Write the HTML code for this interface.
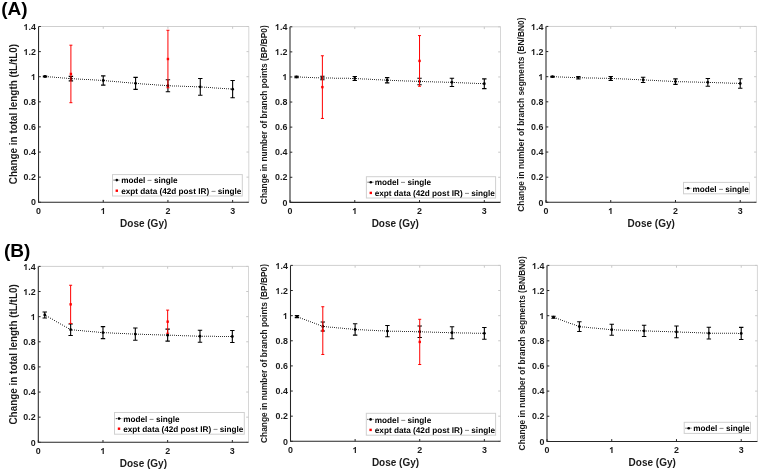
<!DOCTYPE html>
<html><head><meta charset="utf-8"><style>
html,body{margin:0;padding:0;background:#fff;}
body{width:760px;height:471px;overflow:hidden;}
svg{display:block;will-change:transform;}
text{font-family:"Liberation Sans", sans-serif;font-weight:bold;fill:#000;}
.tk{font-size:8.9px;fill:#1a1a1a;}
.lg{font-size:8.2px;text-rendering:geometricPrecision;}
.xl{font-size:10px;fill:#1a1a1a;}
.yl{fill:#1a1a1a;}
.pl{font-size:19px;}
</style></head><body>
<svg width="760" height="471" viewBox="0 0 760 471">
<rect width="760" height="471" fill="#fff"/>
<text x="1.2" y="15.1" class="pl">(A)</text>
<text x="4.0" y="256.8" class="pl">(B)</text>
<line x1="38.55" y1="26.5" x2="248.8" y2="26.5" stroke="#cfcfcf" stroke-width="1"/>
<line x1="248.8" y1="26.5" x2="248.8" y2="202.25" stroke="#d6d6d6" stroke-width="1"/>
<line x1="38.55" y1="202.25" x2="40.85" y2="202.25" stroke="#262626" stroke-width="1"/>
<line x1="248.8" y1="202.25" x2="246.5" y2="202.25" stroke="#c8c8c8" stroke-width="1"/>
<text x="35.95" y="205.45" text-anchor="end" class="tk">0</text>
<line x1="38.55" y1="177.14" x2="40.85" y2="177.14" stroke="#262626" stroke-width="1"/>
<line x1="248.8" y1="177.14" x2="246.5" y2="177.14" stroke="#c8c8c8" stroke-width="1"/>
<text x="35.95" y="180.34" text-anchor="end" class="tk">0.2</text>
<line x1="38.55" y1="152.04" x2="40.85" y2="152.04" stroke="#262626" stroke-width="1"/>
<line x1="248.8" y1="152.04" x2="246.5" y2="152.04" stroke="#c8c8c8" stroke-width="1"/>
<text x="35.95" y="155.24" text-anchor="end" class="tk">0.4</text>
<line x1="38.55" y1="126.93" x2="40.85" y2="126.93" stroke="#262626" stroke-width="1"/>
<line x1="248.8" y1="126.93" x2="246.5" y2="126.93" stroke="#c8c8c8" stroke-width="1"/>
<text x="35.95" y="130.13" text-anchor="end" class="tk">0.6</text>
<line x1="38.55" y1="101.82" x2="40.85" y2="101.82" stroke="#262626" stroke-width="1"/>
<line x1="248.8" y1="101.82" x2="246.5" y2="101.82" stroke="#c8c8c8" stroke-width="1"/>
<text x="35.95" y="105.02" text-anchor="end" class="tk">0.8</text>
<line x1="38.55" y1="76.71" x2="40.85" y2="76.71" stroke="#262626" stroke-width="1"/>
<line x1="248.8" y1="76.71" x2="246.5" y2="76.71" stroke="#c8c8c8" stroke-width="1"/>
<path d="M759 0L484 0L484 1032Q330 890 147 834L147 1082Q250 1117 370 1210Q490 1303 535 1409L759 1409Z" transform="matrix(0.004346 0 0 -0.004346 31.00 80.00)" fill="#1a1a1a"/>
<line x1="38.55" y1="51.61" x2="40.85" y2="51.61" stroke="#262626" stroke-width="1"/>
<line x1="248.8" y1="51.61" x2="246.5" y2="51.61" stroke="#c8c8c8" stroke-width="1"/>
<path d="M759 0L484 0L484 1032Q330 890 147 834L147 1082Q250 1117 370 1210Q490 1303 535 1409L759 1409Z" transform="matrix(0.004346 0 0 -0.004346 23.58 55.00)" fill="#1a1a1a"/>
<text x="35.95" y="54.81" text-anchor="end" class="tk">.2</text>
<line x1="38.55" y1="26.5" x2="40.85" y2="26.5" stroke="#262626" stroke-width="1"/>
<line x1="248.8" y1="26.5" x2="246.5" y2="26.5" stroke="#c8c8c8" stroke-width="1"/>
<path d="M759 0L484 0L484 1032Q330 890 147 834L147 1082Q250 1117 370 1210Q490 1303 535 1409L759 1409Z" transform="matrix(0.004346 0 0 -0.004346 23.58 30.00)" fill="#1a1a1a"/>
<text x="35.95" y="29.7" text-anchor="end" class="tk">.4</text>
<line x1="38.55" y1="202.25" x2="38.55" y2="199.95" stroke="#262626" stroke-width="1"/>
<line x1="38.55" y1="26.5" x2="38.55" y2="28.8" stroke="#c8c8c8" stroke-width="1"/>
<text x="38.55" y="214.15" text-anchor="middle" class="tk">0</text>
<line x1="103.24" y1="202.25" x2="103.24" y2="199.95" stroke="#262626" stroke-width="1"/>
<line x1="103.24" y1="26.5" x2="103.24" y2="28.8" stroke="#c8c8c8" stroke-width="1"/>
<path d="M759 0L484 0L484 1032Q330 890 147 834L147 1082Q250 1117 370 1210Q490 1303 535 1409L759 1409Z" transform="matrix(0.004346 0 0 -0.004346 100.77 214.00)" fill="#1a1a1a"/>
<line x1="167.93" y1="202.25" x2="167.93" y2="199.95" stroke="#262626" stroke-width="1"/>
<line x1="167.93" y1="26.5" x2="167.93" y2="28.8" stroke="#c8c8c8" stroke-width="1"/>
<text x="167.93" y="214.15" text-anchor="middle" class="tk">2</text>
<line x1="232.63" y1="202.25" x2="232.63" y2="199.95" stroke="#262626" stroke-width="1"/>
<line x1="232.63" y1="26.5" x2="232.63" y2="28.8" stroke="#c8c8c8" stroke-width="1"/>
<text x="232.63" y="214.15" text-anchor="middle" class="tk">3</text>
<path d="M38.55 26.5V202.25H248.8" fill="none" stroke="#262626" stroke-width="1.05"/>
<path d="M46 76.13h1v1h-1zM48 76.29h1v1h-1zM50 76.45h1v1h-1zM52 76.62h1v1h-1zM54 76.78h1v1h-1zM56 76.94h1v1h-1zM58 77.10h1v1h-1zM60 77.26h1v1h-1zM62 77.42h1v1h-1zM64 77.58h1v1h-1zM66 77.74h1v1h-1zM68 77.90h1v1h-1zM70 78.07h1v1h-1zM72 78.19h1v1h-1zM74 78.31h1v1h-1zM76 78.42h1v1h-1zM78 78.54h1v1h-1zM80 78.66h1v1h-1zM82 78.77h1v1h-1zM84 78.89h1v1h-1zM86 79.01h1v1h-1zM88 79.12h1v1h-1zM90 79.24h1v1h-1zM92 79.35h1v1h-1zM94 79.47h1v1h-1zM96 79.59h1v1h-1zM98 79.70h1v1h-1zM100 79.82h1v1h-1zM102 79.94h1v1h-1zM104 80.09h1v1h-1zM106 80.27h1v1h-1zM108 80.45h1v1h-1zM110 80.63h1v1h-1zM112 80.81h1v1h-1zM114 80.99h1v1h-1zM116 81.16h1v1h-1zM118 81.34h1v1h-1zM120 81.52h1v1h-1zM122 81.70h1v1h-1zM124 81.88h1v1h-1zM126 82.06h1v1h-1zM128 82.23h1v1h-1zM130 82.41h1v1h-1zM132 82.59h1v1h-1zM134 82.77h1v1h-1zM136 82.93h1v1h-1zM138 83.08h1v1h-1zM140 83.23h1v1h-1zM142 83.38h1v1h-1zM144 83.52h1v1h-1zM146 83.67h1v1h-1zM148 83.82h1v1h-1zM150 83.97h1v1h-1zM152 84.11h1v1h-1zM154 84.26h1v1h-1zM156 84.41h1v1h-1zM158 84.56h1v1h-1zM160 84.70h1v1h-1zM162 84.85h1v1h-1zM164 85.00h1v1h-1zM166 85.15h1v1h-1zM168 85.27h1v1h-1zM170 85.34h1v1h-1zM172 85.41h1v1h-1zM174 85.48h1v1h-1zM176 85.55h1v1h-1zM178 85.62h1v1h-1zM180 85.69h1v1h-1zM182 85.76h1v1h-1zM184 85.83h1v1h-1zM186 85.90h1v1h-1zM188 85.97h1v1h-1zM190 86.04h1v1h-1zM192 86.11h1v1h-1zM194 86.18h1v1h-1zM196 86.25h1v1h-1zM198 86.32h1v1h-1zM200 86.40h1v1h-1zM202 86.54h1v1h-1zM204 86.68h1v1h-1zM206 86.82h1v1h-1zM208 86.96h1v1h-1zM210 87.10h1v1h-1zM212 87.24h1v1h-1zM214 87.38h1v1h-1zM216 87.52h1v1h-1zM218 87.66h1v1h-1zM220 87.80h1v1h-1zM222 87.93h1v1h-1zM224 88.07h1v1h-1zM226 88.21h1v1h-1zM228 88.35h1v1h-1zM230 88.49h1v1h-1zM232 88.63h1v1h-1z" fill="#333"/>
<path d="M45.02 76.01V77.02M42.82 76.01H47.22M42.82 77.02H47.22" stroke="#000" stroke-width="1.1" fill="none"/>
<path d="M70.9 76.34V80.86M68.7 76.34H73.1M68.7 80.86H73.1" stroke="#000" stroke-width="1.1" fill="none"/>
<path d="M103.24 75.84V85.13M101.04 75.84H105.44M101.04 85.13H105.44" stroke="#000" stroke-width="1.1" fill="none"/>
<path d="M135.59 77.34V89.39M133.39 77.34H137.79M133.39 89.39H137.79" stroke="#000" stroke-width="1.1" fill="none"/>
<path d="M167.93 79.73V91.78M165.73 79.73H170.13M165.73 91.78H170.13" stroke="#000" stroke-width="1.1" fill="none"/>
<path d="M200.28 78.47V95.29M198.08 78.47H202.48M198.08 95.29H202.48" stroke="#000" stroke-width="1.1" fill="none"/>
<path d="M232.63 80.48V97.8M230.43 80.48H234.83M230.43 97.8H234.83" stroke="#000" stroke-width="1.1" fill="none"/>
<circle cx="45.02" cy="76.51" r="1.4" fill="#000"/>
<circle cx="70.9" cy="78.6" r="1.4" fill="#000"/>
<circle cx="103.24" cy="80.48" r="1.4" fill="#000"/>
<circle cx="135.59" cy="83.37" r="1.4" fill="#000"/>
<circle cx="167.93" cy="85.75" r="1.4" fill="#000"/>
<circle cx="200.28" cy="86.88" r="1.4" fill="#000"/>
<circle cx="232.63" cy="89.14" r="1.4" fill="#000"/>
<path d="M70.9 45.2V102.7M69.4 45.2H72.4M69.4 102.7H72.4" stroke="#ff0000" stroke-width="1" fill="none"/>
<path d="M167.93 30.27V87.76M166.43 30.27H169.43M166.43 87.76H169.43" stroke="#ff0000" stroke-width="1" fill="none"/>
<rect x="69.7" y="72.75" width="2.4" height="2.4" fill="#ff0000"/>
<rect x="166.73" y="57.81" width="2.4" height="2.4" fill="#ff0000"/>
<rect x="112.5" y="174.6" width="129.8" height="21.4" fill="#fff" stroke="#d0d0d0" stroke-width="1"/>
<line x1="113.6" y1="180.1" x2="120" y2="180.1" stroke="#000" stroke-width="0.9" stroke-dasharray="1 1"/>
<circle cx="116.8" cy="180.1" r="1.3" fill="#000"/>
<text x="121.2" y="183.2" class="lg" textLength="56.4" lengthAdjust="spacingAndGlyphs">model <tspan font-weight="normal" font-size="7.2px" baseline-shift="0.9">–</tspan> single</text>
<rect x="115.6" y="189.5" width="2.4" height="2.4" fill="#ff0000"/>
<text x="121.2" y="193.9" class="lg" textLength="120.2" lengthAdjust="spacingAndGlyphs">expt data (42d post IR) <tspan font-weight="normal" font-size="7.2px" baseline-shift="0.9">–</tspan> single</text>
<text x="143.68" y="226.65" text-anchor="middle" class="xl">Dose (Gy)</text>
<text transform="translate(17.3 114.1) rotate(-90)" text-anchor="middle" font-size="10.1" textLength="140.3" lengthAdjust="spacingAndGlyphs" class="yl">Change in total length (tL/tL0)</text>
<line x1="290" y1="26.8" x2="500.5" y2="26.8" stroke="#cfcfcf" stroke-width="1"/>
<line x1="500.5" y1="26.8" x2="500.5" y2="202.35" stroke="#d6d6d6" stroke-width="1"/>
<line x1="290" y1="202.35" x2="292.3" y2="202.35" stroke="#262626" stroke-width="1"/>
<line x1="500.5" y1="202.35" x2="498.2" y2="202.35" stroke="#c8c8c8" stroke-width="1"/>
<text x="287.4" y="205.55" text-anchor="end" class="tk">0</text>
<line x1="290" y1="177.27" x2="292.3" y2="177.27" stroke="#262626" stroke-width="1"/>
<line x1="500.5" y1="177.27" x2="498.2" y2="177.27" stroke="#c8c8c8" stroke-width="1"/>
<text x="287.4" y="180.47" text-anchor="end" class="tk">0.2</text>
<line x1="290" y1="152.19" x2="292.3" y2="152.19" stroke="#262626" stroke-width="1"/>
<line x1="500.5" y1="152.19" x2="498.2" y2="152.19" stroke="#c8c8c8" stroke-width="1"/>
<text x="287.4" y="155.39" text-anchor="end" class="tk">0.4</text>
<line x1="290" y1="127.11" x2="292.3" y2="127.11" stroke="#262626" stroke-width="1"/>
<line x1="500.5" y1="127.11" x2="498.2" y2="127.11" stroke="#c8c8c8" stroke-width="1"/>
<text x="287.4" y="130.31" text-anchor="end" class="tk">0.6</text>
<line x1="290" y1="102.04" x2="292.3" y2="102.04" stroke="#262626" stroke-width="1"/>
<line x1="500.5" y1="102.04" x2="498.2" y2="102.04" stroke="#c8c8c8" stroke-width="1"/>
<text x="287.4" y="105.24" text-anchor="end" class="tk">0.8</text>
<line x1="290" y1="76.96" x2="292.3" y2="76.96" stroke="#262626" stroke-width="1"/>
<line x1="500.5" y1="76.96" x2="498.2" y2="76.96" stroke="#c8c8c8" stroke-width="1"/>
<path d="M759 0L484 0L484 1032Q330 890 147 834L147 1082Q250 1117 370 1210Q490 1303 535 1409L759 1409Z" transform="matrix(0.004346 0 0 -0.004346 282.45 80.00)" fill="#1a1a1a"/>
<line x1="290" y1="51.88" x2="292.3" y2="51.88" stroke="#262626" stroke-width="1"/>
<line x1="500.5" y1="51.88" x2="498.2" y2="51.88" stroke="#c8c8c8" stroke-width="1"/>
<path d="M759 0L484 0L484 1032Q330 890 147 834L147 1082Q250 1117 370 1210Q490 1303 535 1409L759 1409Z" transform="matrix(0.004346 0 0 -0.004346 275.03 55.00)" fill="#1a1a1a"/>
<text x="287.4" y="55.08" text-anchor="end" class="tk">.2</text>
<line x1="290" y1="26.8" x2="292.3" y2="26.8" stroke="#262626" stroke-width="1"/>
<line x1="500.5" y1="26.8" x2="498.2" y2="26.8" stroke="#c8c8c8" stroke-width="1"/>
<path d="M759 0L484 0L484 1032Q330 890 147 834L147 1082Q250 1117 370 1210Q490 1303 535 1409L759 1409Z" transform="matrix(0.004346 0 0 -0.004346 275.03 30.00)" fill="#1a1a1a"/>
<text x="287.4" y="30" text-anchor="end" class="tk">.4</text>
<line x1="290" y1="202.35" x2="290" y2="200.05" stroke="#262626" stroke-width="1"/>
<line x1="290" y1="26.8" x2="290" y2="29.1" stroke="#c8c8c8" stroke-width="1"/>
<text x="290" y="214.25" text-anchor="middle" class="tk">0</text>
<line x1="354.77" y1="202.35" x2="354.77" y2="200.05" stroke="#262626" stroke-width="1"/>
<line x1="354.77" y1="26.8" x2="354.77" y2="29.1" stroke="#c8c8c8" stroke-width="1"/>
<path d="M759 0L484 0L484 1032Q330 890 147 834L147 1082Q250 1117 370 1210Q490 1303 535 1409L759 1409Z" transform="matrix(0.004346 0 0 -0.004346 352.30 214.00)" fill="#1a1a1a"/>
<line x1="419.54" y1="202.35" x2="419.54" y2="200.05" stroke="#262626" stroke-width="1"/>
<line x1="419.54" y1="26.8" x2="419.54" y2="29.1" stroke="#c8c8c8" stroke-width="1"/>
<text x="419.54" y="214.25" text-anchor="middle" class="tk">2</text>
<line x1="484.31" y1="202.35" x2="484.31" y2="200.05" stroke="#262626" stroke-width="1"/>
<line x1="484.31" y1="26.8" x2="484.31" y2="29.1" stroke="#c8c8c8" stroke-width="1"/>
<text x="484.31" y="214.25" text-anchor="middle" class="tk">3</text>
<path d="M290 26.8V202.35H500.5" fill="none" stroke="#262626" stroke-width="1.05"/>
<path d="M298 76.54h1v1h-1zM300 76.61h1v1h-1zM302 76.69h1v1h-1zM304 76.77h1v1h-1zM306 76.85h1v1h-1zM308 76.92h1v1h-1zM310 77.00h1v1h-1zM312 77.08h1v1h-1zM314 77.15h1v1h-1zM316 77.23h1v1h-1zM318 77.31h1v1h-1zM320 77.39h1v1h-1zM322 77.46h1v1h-1zM324 77.49h1v1h-1zM326 77.52h1v1h-1zM328 77.56h1v1h-1zM330 77.59h1v1h-1zM332 77.62h1v1h-1zM334 77.65h1v1h-1zM336 77.68h1v1h-1zM338 77.71h1v1h-1zM340 77.74h1v1h-1zM342 77.77h1v1h-1zM344 77.80h1v1h-1zM346 77.83h1v1h-1zM348 77.86h1v1h-1zM350 77.90h1v1h-1zM352 77.93h1v1h-1zM354 77.96h1v1h-1zM356 78.06h1v1h-1zM358 78.16h1v1h-1zM360 78.27h1v1h-1zM362 78.38h1v1h-1zM364 78.49h1v1h-1zM366 78.60h1v1h-1zM368 78.71h1v1h-1zM370 78.81h1v1h-1zM372 78.92h1v1h-1zM374 79.03h1v1h-1zM376 79.14h1v1h-1zM378 79.25h1v1h-1zM380 79.36h1v1h-1zM382 79.47h1v1h-1zM384 79.57h1v1h-1zM386 79.68h1v1h-1zM388 79.77h1v1h-1zM390 79.85h1v1h-1zM392 79.92h1v1h-1zM394 80.00h1v1h-1zM396 80.08h1v1h-1zM398 80.16h1v1h-1zM400 80.23h1v1h-1zM402 80.31h1v1h-1zM404 80.39h1v1h-1zM406 80.47h1v1h-1zM408 80.54h1v1h-1zM410 80.62h1v1h-1zM412 80.70h1v1h-1zM414 80.78h1v1h-1zM416 80.85h1v1h-1zM418 80.93h1v1h-1zM420 81.00h1v1h-1zM422 81.05h1v1h-1zM424 81.11h1v1h-1zM426 81.16h1v1h-1zM428 81.21h1v1h-1zM430 81.27h1v1h-1zM432 81.32h1v1h-1zM434 81.38h1v1h-1zM436 81.43h1v1h-1zM438 81.49h1v1h-1zM440 81.54h1v1h-1zM442 81.59h1v1h-1zM444 81.65h1v1h-1zM446 81.70h1v1h-1zM448 81.76h1v1h-1zM450 81.81h1v1h-1zM452 81.87h1v1h-1zM454 81.96h1v1h-1zM456 82.04h1v1h-1zM458 82.13h1v1h-1zM460 82.21h1v1h-1zM462 82.30h1v1h-1zM464 82.38h1v1h-1zM466 82.47h1v1h-1zM468 82.56h1v1h-1zM470 82.64h1v1h-1zM472 82.73h1v1h-1zM474 82.81h1v1h-1zM476 82.90h1v1h-1zM478 82.98h1v1h-1zM480 83.07h1v1h-1zM482 83.15h1v1h-1zM484 83.15h1v1h-1z" fill="#333"/>
<path d="M296.48 76.2V77.71M294.28 76.2H298.68M294.28 77.71H298.68" stroke="#000" stroke-width="1.1" fill="none"/>
<path d="M322.38 76.2V79.72M320.18 76.2H324.58M320.18 79.72H324.58" stroke="#000" stroke-width="1.1" fill="none"/>
<path d="M354.77 76.46V80.47M352.57 76.46H356.97M352.57 80.47H356.97" stroke="#000" stroke-width="1.1" fill="none"/>
<path d="M387.15 77.58V82.85M384.95 77.58H389.35M384.95 82.85H389.35" stroke="#000" stroke-width="1.1" fill="none"/>
<path d="M419.54 78.21V84.73M417.34 78.21H421.74M417.34 84.73H421.74" stroke="#000" stroke-width="1.1" fill="none"/>
<path d="M451.92 78.21V86.49M449.72 78.21H454.12M449.72 86.49H454.12" stroke="#000" stroke-width="1.1" fill="none"/>
<path d="M484.31 78.84V88.62M482.11 78.84H486.51M482.11 88.62H486.51" stroke="#000" stroke-width="1.1" fill="none"/>
<circle cx="296.48" cy="76.96" r="1.4" fill="#000"/>
<circle cx="322.38" cy="77.96" r="1.4" fill="#000"/>
<circle cx="354.77" cy="78.46" r="1.4" fill="#000"/>
<circle cx="387.15" cy="80.22" r="1.4" fill="#000"/>
<circle cx="419.54" cy="81.47" r="1.4" fill="#000"/>
<circle cx="451.92" cy="82.35" r="1.4" fill="#000"/>
<circle cx="484.31" cy="83.73" r="1.4" fill="#000"/>
<path d="M322.38 55.77V118.46M320.88 55.77H323.88M320.88 118.46H323.88" stroke="#ff0000" stroke-width="1" fill="none"/>
<path d="M419.54 35.58V86.24M418.04 35.58H421.04M418.04 86.24H421.04" stroke="#ff0000" stroke-width="1" fill="none"/>
<rect x="321.18" y="85.91" width="2.4" height="2.4" fill="#ff0000"/>
<rect x="418.34" y="59.71" width="2.4" height="2.4" fill="#ff0000"/>
<rect x="366.4" y="176.7" width="129.2" height="21.3" fill="#fff" stroke="#d0d0d0" stroke-width="1"/>
<line x1="367.6" y1="182.2" x2="374" y2="182.2" stroke="#000" stroke-width="0.9" stroke-dasharray="1 1"/>
<circle cx="370.8" cy="182.2" r="1.3" fill="#000"/>
<text x="374.7" y="185.2" class="lg" textLength="56.4" lengthAdjust="spacingAndGlyphs">model <tspan font-weight="normal" font-size="7.2px" baseline-shift="0.9">–</tspan> single</text>
<rect x="369.6" y="191.7" width="2.4" height="2.4" fill="#ff0000"/>
<text x="374.7" y="196.3" class="lg" textLength="120.2" lengthAdjust="spacingAndGlyphs">expt data (42d post IR) <tspan font-weight="normal" font-size="7.2px" baseline-shift="0.9">–</tspan> single</text>
<text x="395.25" y="226.75" text-anchor="middle" class="xl">Dose (Gy)</text>
<text transform="translate(266.9 114.7) rotate(-90)" text-anchor="middle" font-size="8.4" textLength="178.9" lengthAdjust="spacingAndGlyphs" class="yl">Change in number of branch points (BP/BP0)</text>
<line x1="546" y1="26.45" x2="756.4" y2="26.45" stroke="#cfcfcf" stroke-width="1"/>
<line x1="756.4" y1="26.45" x2="756.4" y2="202.3" stroke="#d6d6d6" stroke-width="1"/>
<line x1="546" y1="202.3" x2="548.3" y2="202.3" stroke="#262626" stroke-width="1"/>
<line x1="756.4" y1="202.3" x2="754.1" y2="202.3" stroke="#c8c8c8" stroke-width="1"/>
<text x="543.4" y="205.5" text-anchor="end" class="tk">0</text>
<line x1="546" y1="177.18" x2="548.3" y2="177.18" stroke="#262626" stroke-width="1"/>
<line x1="756.4" y1="177.18" x2="754.1" y2="177.18" stroke="#c8c8c8" stroke-width="1"/>
<text x="543.4" y="180.38" text-anchor="end" class="tk">0.2</text>
<line x1="546" y1="152.06" x2="548.3" y2="152.06" stroke="#262626" stroke-width="1"/>
<line x1="756.4" y1="152.06" x2="754.1" y2="152.06" stroke="#c8c8c8" stroke-width="1"/>
<text x="543.4" y="155.26" text-anchor="end" class="tk">0.4</text>
<line x1="546" y1="126.94" x2="548.3" y2="126.94" stroke="#262626" stroke-width="1"/>
<line x1="756.4" y1="126.94" x2="754.1" y2="126.94" stroke="#c8c8c8" stroke-width="1"/>
<text x="543.4" y="130.14" text-anchor="end" class="tk">0.6</text>
<line x1="546" y1="101.81" x2="548.3" y2="101.81" stroke="#262626" stroke-width="1"/>
<line x1="756.4" y1="101.81" x2="754.1" y2="101.81" stroke="#c8c8c8" stroke-width="1"/>
<text x="543.4" y="105.01" text-anchor="end" class="tk">0.8</text>
<line x1="546" y1="76.69" x2="548.3" y2="76.69" stroke="#262626" stroke-width="1"/>
<line x1="756.4" y1="76.69" x2="754.1" y2="76.69" stroke="#c8c8c8" stroke-width="1"/>
<path d="M759 0L484 0L484 1032Q330 890 147 834L147 1082Q250 1117 370 1210Q490 1303 535 1409L759 1409Z" transform="matrix(0.004346 0 0 -0.004346 538.45 80.00)" fill="#1a1a1a"/>
<line x1="546" y1="51.57" x2="548.3" y2="51.57" stroke="#262626" stroke-width="1"/>
<line x1="756.4" y1="51.57" x2="754.1" y2="51.57" stroke="#c8c8c8" stroke-width="1"/>
<path d="M759 0L484 0L484 1032Q330 890 147 834L147 1082Q250 1117 370 1210Q490 1303 535 1409L759 1409Z" transform="matrix(0.004346 0 0 -0.004346 531.03 55.00)" fill="#1a1a1a"/>
<text x="543.4" y="54.77" text-anchor="end" class="tk">.2</text>
<line x1="546" y1="26.45" x2="548.3" y2="26.45" stroke="#262626" stroke-width="1"/>
<line x1="756.4" y1="26.45" x2="754.1" y2="26.45" stroke="#c8c8c8" stroke-width="1"/>
<path d="M759 0L484 0L484 1032Q330 890 147 834L147 1082Q250 1117 370 1210Q490 1303 535 1409L759 1409Z" transform="matrix(0.004346 0 0 -0.004346 531.03 30.00)" fill="#1a1a1a"/>
<text x="543.4" y="29.65" text-anchor="end" class="tk">.4</text>
<line x1="546" y1="202.3" x2="546" y2="200" stroke="#262626" stroke-width="1"/>
<line x1="546" y1="26.45" x2="546" y2="28.75" stroke="#c8c8c8" stroke-width="1"/>
<text x="546" y="214.2" text-anchor="middle" class="tk">0</text>
<line x1="610.74" y1="202.3" x2="610.74" y2="200" stroke="#262626" stroke-width="1"/>
<line x1="610.74" y1="26.45" x2="610.74" y2="28.75" stroke="#c8c8c8" stroke-width="1"/>
<path d="M759 0L484 0L484 1032Q330 890 147 834L147 1082Q250 1117 370 1210Q490 1303 535 1409L759 1409Z" transform="matrix(0.004346 0 0 -0.004346 608.26 214.00)" fill="#1a1a1a"/>
<line x1="675.48" y1="202.3" x2="675.48" y2="200" stroke="#262626" stroke-width="1"/>
<line x1="675.48" y1="26.45" x2="675.48" y2="28.75" stroke="#c8c8c8" stroke-width="1"/>
<text x="675.48" y="214.2" text-anchor="middle" class="tk">2</text>
<line x1="740.22" y1="202.3" x2="740.22" y2="200" stroke="#262626" stroke-width="1"/>
<line x1="740.22" y1="26.45" x2="740.22" y2="28.75" stroke="#c8c8c8" stroke-width="1"/>
<text x="740.22" y="214.2" text-anchor="middle" class="tk">3</text>
<path d="M546 26.45V202.3H756.4" fill="none" stroke="#262626" stroke-width="1.05"/>
<path d="M554 76.27h1v1h-1zM556 76.35h1v1h-1zM558 76.43h1v1h-1zM560 76.50h1v1h-1zM562 76.58h1v1h-1zM564 76.66h1v1h-1zM566 76.74h1v1h-1zM568 76.81h1v1h-1zM570 76.89h1v1h-1zM572 76.97h1v1h-1zM574 77.05h1v1h-1zM576 77.13h1v1h-1zM578 77.20h1v1h-1zM580 77.25h1v1h-1zM582 77.29h1v1h-1zM584 77.34h1v1h-1zM586 77.39h1v1h-1zM588 77.43h1v1h-1zM590 77.48h1v1h-1zM592 77.53h1v1h-1zM594 77.57h1v1h-1zM596 77.62h1v1h-1zM598 77.67h1v1h-1zM600 77.71h1v1h-1zM602 77.76h1v1h-1zM604 77.81h1v1h-1zM606 77.85h1v1h-1zM608 77.90h1v1h-1zM610 77.95h1v1h-1zM612 78.03h1v1h-1zM614 78.11h1v1h-1zM616 78.20h1v1h-1zM618 78.28h1v1h-1zM620 78.37h1v1h-1zM622 78.45h1v1h-1zM624 78.54h1v1h-1zM626 78.62h1v1h-1zM628 78.71h1v1h-1zM630 78.79h1v1h-1zM632 78.88h1v1h-1zM634 78.97h1v1h-1zM636 79.05h1v1h-1zM638 79.14h1v1h-1zM640 79.22h1v1h-1zM642 79.31h1v1h-1zM644 79.41h1v1h-1zM646 79.52h1v1h-1zM648 79.63h1v1h-1zM650 79.73h1v1h-1zM652 79.84h1v1h-1zM654 79.95h1v1h-1zM656 80.06h1v1h-1zM658 80.17h1v1h-1zM660 80.28h1v1h-1zM662 80.39h1v1h-1zM664 80.50h1v1h-1zM666 80.60h1v1h-1zM668 80.71h1v1h-1zM670 80.82h1v1h-1zM672 80.93h1v1h-1zM674 81.04h1v1h-1zM676 81.12h1v1h-1zM678 81.16h1v1h-1zM680 81.21h1v1h-1zM682 81.26h1v1h-1zM684 81.30h1v1h-1zM686 81.35h1v1h-1zM688 81.39h1v1h-1zM690 81.44h1v1h-1zM692 81.49h1v1h-1zM694 81.53h1v1h-1zM696 81.58h1v1h-1zM698 81.63h1v1h-1zM700 81.67h1v1h-1zM702 81.72h1v1h-1zM704 81.77h1v1h-1zM706 81.81h1v1h-1zM708 81.87h1v1h-1zM710 81.94h1v1h-1zM712 82.01h1v1h-1zM714 82.08h1v1h-1zM716 82.15h1v1h-1zM718 82.22h1v1h-1zM720 82.29h1v1h-1zM722 82.36h1v1h-1zM724 82.43h1v1h-1zM726 82.50h1v1h-1zM728 82.57h1v1h-1zM730 82.64h1v1h-1zM732 82.71h1v1h-1zM734 82.78h1v1h-1zM736 82.85h1v1h-1zM738 82.92h1v1h-1zM740 82.92h1v1h-1z" fill="#333"/>
<path d="M552.47 76.19V77.2M550.27 76.19H554.67M550.27 77.2H554.67" stroke="#000" stroke-width="1.1" fill="none"/>
<path d="M578.37 76.44V78.95M576.17 76.44H580.57M576.17 78.95H580.57" stroke="#000" stroke-width="1.1" fill="none"/>
<path d="M610.74 76.44V80.46M608.54 76.44H612.94M608.54 80.46H612.94" stroke="#000" stroke-width="1.1" fill="none"/>
<path d="M643.11 77.2V82.47M640.91 77.2H645.31M640.91 82.47H645.31" stroke="#000" stroke-width="1.1" fill="none"/>
<path d="M675.48 78.83V84.35M673.28 78.83H677.68M673.28 84.35H677.68" stroke="#000" stroke-width="1.1" fill="none"/>
<path d="M707.85 78.45V86.24M705.65 78.45H710.05M705.65 86.24H710.05" stroke="#000" stroke-width="1.1" fill="none"/>
<path d="M740.22 78.7V88.25M738.02 78.7H742.42M738.02 88.25H742.42" stroke="#000" stroke-width="1.1" fill="none"/>
<circle cx="552.47" cy="76.69" r="1.4" fill="#000"/>
<circle cx="578.37" cy="77.7" r="1.4" fill="#000"/>
<circle cx="610.74" cy="78.45" r="1.4" fill="#000"/>
<circle cx="643.11" cy="79.83" r="1.4" fill="#000"/>
<circle cx="675.48" cy="81.59" r="1.4" fill="#000"/>
<circle cx="707.85" cy="82.35" r="1.4" fill="#000"/>
<circle cx="740.22" cy="83.48" r="1.4" fill="#000"/>
<rect x="683.5" y="182.4" width="65.9" height="11.4" fill="#fff" stroke="#d0d0d0" stroke-width="1"/>
<line x1="684.8" y1="188.3" x2="691.2" y2="188.3" stroke="#000" stroke-width="0.9" stroke-dasharray="1 1"/>
<circle cx="688" cy="188.3" r="1.3" fill="#000"/>
<text x="692.5" y="191.6" class="lg" textLength="56.4" lengthAdjust="spacingAndGlyphs">model <tspan font-weight="normal" font-size="7.2px" baseline-shift="0.9">–</tspan> single</text>
<text x="651.2" y="226.7" text-anchor="middle" class="xl">Dose (Gy)</text>
<text transform="translate(524.2 114.65) rotate(-90)" text-anchor="middle" font-size="8.4" textLength="194.2" lengthAdjust="spacingAndGlyphs" class="yl">Change in number of branch segments (BN/BN0)</text>
<line x1="38.3" y1="266.4" x2="248.5" y2="266.4" stroke="#cfcfcf" stroke-width="1"/>
<line x1="248.5" y1="266.4" x2="248.5" y2="442.3" stroke="#d6d6d6" stroke-width="1"/>
<line x1="38.3" y1="442.3" x2="40.6" y2="442.3" stroke="#262626" stroke-width="1"/>
<line x1="248.5" y1="442.3" x2="246.2" y2="442.3" stroke="#c8c8c8" stroke-width="1"/>
<text x="35.7" y="445.5" text-anchor="end" class="tk">0</text>
<line x1="38.3" y1="417.17" x2="40.6" y2="417.17" stroke="#262626" stroke-width="1"/>
<line x1="248.5" y1="417.17" x2="246.2" y2="417.17" stroke="#c8c8c8" stroke-width="1"/>
<text x="35.7" y="420.37" text-anchor="end" class="tk">0.2</text>
<line x1="38.3" y1="392.04" x2="40.6" y2="392.04" stroke="#262626" stroke-width="1"/>
<line x1="248.5" y1="392.04" x2="246.2" y2="392.04" stroke="#c8c8c8" stroke-width="1"/>
<text x="35.7" y="395.24" text-anchor="end" class="tk">0.4</text>
<line x1="38.3" y1="366.91" x2="40.6" y2="366.91" stroke="#262626" stroke-width="1"/>
<line x1="248.5" y1="366.91" x2="246.2" y2="366.91" stroke="#c8c8c8" stroke-width="1"/>
<text x="35.7" y="370.11" text-anchor="end" class="tk">0.6</text>
<line x1="38.3" y1="341.79" x2="40.6" y2="341.79" stroke="#262626" stroke-width="1"/>
<line x1="248.5" y1="341.79" x2="246.2" y2="341.79" stroke="#c8c8c8" stroke-width="1"/>
<text x="35.7" y="344.99" text-anchor="end" class="tk">0.8</text>
<line x1="38.3" y1="316.66" x2="40.6" y2="316.66" stroke="#262626" stroke-width="1"/>
<line x1="248.5" y1="316.66" x2="246.2" y2="316.66" stroke="#c8c8c8" stroke-width="1"/>
<path d="M759 0L484 0L484 1032Q330 890 147 834L147 1082Q250 1117 370 1210Q490 1303 535 1409L759 1409Z" transform="matrix(0.004346 0 0 -0.004346 30.75 320.00)" fill="#1a1a1a"/>
<line x1="38.3" y1="291.53" x2="40.6" y2="291.53" stroke="#262626" stroke-width="1"/>
<line x1="248.5" y1="291.53" x2="246.2" y2="291.53" stroke="#c8c8c8" stroke-width="1"/>
<path d="M759 0L484 0L484 1032Q330 890 147 834L147 1082Q250 1117 370 1210Q490 1303 535 1409L759 1409Z" transform="matrix(0.004346 0 0 -0.004346 23.33 295.00)" fill="#1a1a1a"/>
<text x="35.7" y="294.73" text-anchor="end" class="tk">.2</text>
<line x1="38.3" y1="266.4" x2="40.6" y2="266.4" stroke="#262626" stroke-width="1"/>
<line x1="248.5" y1="266.4" x2="246.2" y2="266.4" stroke="#c8c8c8" stroke-width="1"/>
<path d="M759 0L484 0L484 1032Q330 890 147 834L147 1082Q250 1117 370 1210Q490 1303 535 1409L759 1409Z" transform="matrix(0.004346 0 0 -0.004346 23.33 270.00)" fill="#1a1a1a"/>
<text x="35.7" y="269.6" text-anchor="end" class="tk">.4</text>
<line x1="38.3" y1="442.3" x2="38.3" y2="440" stroke="#262626" stroke-width="1"/>
<line x1="38.3" y1="266.4" x2="38.3" y2="268.7" stroke="#c8c8c8" stroke-width="1"/>
<text x="38.3" y="454.2" text-anchor="middle" class="tk">0</text>
<line x1="102.98" y1="442.3" x2="102.98" y2="440" stroke="#262626" stroke-width="1"/>
<line x1="102.98" y1="266.4" x2="102.98" y2="268.7" stroke="#c8c8c8" stroke-width="1"/>
<path d="M759 0L484 0L484 1032Q330 890 147 834L147 1082Q250 1117 370 1210Q490 1303 535 1409L759 1409Z" transform="matrix(0.004346 0 0 -0.004346 100.50 454.00)" fill="#1a1a1a"/>
<line x1="167.65" y1="442.3" x2="167.65" y2="440" stroke="#262626" stroke-width="1"/>
<line x1="167.65" y1="266.4" x2="167.65" y2="268.7" stroke="#c8c8c8" stroke-width="1"/>
<text x="167.65" y="454.2" text-anchor="middle" class="tk">2</text>
<line x1="232.33" y1="442.3" x2="232.33" y2="440" stroke="#262626" stroke-width="1"/>
<line x1="232.33" y1="266.4" x2="232.33" y2="268.7" stroke="#c8c8c8" stroke-width="1"/>
<text x="232.33" y="454.2" text-anchor="middle" class="tk">3</text>
<path d="M38.3 266.4V442.3H248.5" fill="none" stroke="#262626" stroke-width="1.05"/>
<path d="M46 315.45h1v1h-1zM48 316.59h1v1h-1zM50 317.73h1v1h-1zM52 318.87h1v1h-1zM54 320.01h1v1h-1zM56 321.16h1v1h-1zM58 322.30h1v1h-1zM60 323.44h1v1h-1zM62 324.58h1v1h-1zM64 325.72h1v1h-1zM66 326.86h1v1h-1zM68 328.00h1v1h-1zM70 329.14h1v1h-1zM72 329.39h1v1h-1zM74 329.57h1v1h-1zM76 329.75h1v1h-1zM78 329.93h1v1h-1zM80 330.11h1v1h-1zM82 330.28h1v1h-1zM84 330.46h1v1h-1zM86 330.64h1v1h-1zM88 330.82h1v1h-1zM90 331.00h1v1h-1zM92 331.18h1v1h-1zM94 331.36h1v1h-1zM96 331.54h1v1h-1zM98 331.71h1v1h-1zM100 331.89h1v1h-1zM102 332.07h1v1h-1zM104 332.18h1v1h-1zM106 332.28h1v1h-1zM108 332.37h1v1h-1zM110 332.46h1v1h-1zM112 332.56h1v1h-1zM114 332.65h1v1h-1zM116 332.74h1v1h-1zM118 332.84h1v1h-1zM120 332.93h1v1h-1zM122 333.02h1v1h-1zM124 333.12h1v1h-1zM126 333.21h1v1h-1zM128 333.30h1v1h-1zM130 333.40h1v1h-1zM132 333.49h1v1h-1zM134 333.58h1v1h-1zM136 333.66h1v1h-1zM138 333.72h1v1h-1zM140 333.78h1v1h-1zM142 333.84h1v1h-1zM144 333.91h1v1h-1zM146 333.97h1v1h-1zM148 334.03h1v1h-1zM150 334.09h1v1h-1zM152 334.16h1v1h-1zM154 334.22h1v1h-1zM156 334.28h1v1h-1zM158 334.34h1v1h-1zM160 334.40h1v1h-1zM162 334.47h1v1h-1zM164 334.53h1v1h-1zM166 334.59h1v1h-1zM168 334.66h1v1h-1zM170 334.73h1v1h-1zM172 334.80h1v1h-1zM174 334.87h1v1h-1zM176 334.94h1v1h-1zM178 335.01h1v1h-1zM180 335.08h1v1h-1zM182 335.15h1v1h-1zM184 335.22h1v1h-1zM186 335.29h1v1h-1zM188 335.36h1v1h-1zM190 335.43h1v1h-1zM192 335.50h1v1h-1zM194 335.57h1v1h-1zM196 335.64h1v1h-1zM198 335.71h1v1h-1zM200 335.76h1v1h-1zM202 335.78h1v1h-1zM204 335.79h1v1h-1zM206 335.81h1v1h-1zM208 335.82h1v1h-1zM210 335.84h1v1h-1zM212 335.85h1v1h-1zM214 335.87h1v1h-1zM216 335.89h1v1h-1zM218 335.90h1v1h-1zM220 335.92h1v1h-1zM222 335.93h1v1h-1zM224 335.95h1v1h-1zM226 335.96h1v1h-1zM228 335.98h1v1h-1zM230 335.99h1v1h-1zM232 335.99h1v1h-1z" fill="#333"/>
<path d="M44.77 311.95V317.98M42.57 311.95H46.97M42.57 317.98H46.97" stroke="#000" stroke-width="1.1" fill="none"/>
<path d="M70.64 323.94V335.5M68.44 323.94H72.84M68.44 335.5H72.84" stroke="#000" stroke-width="1.1" fill="none"/>
<path d="M102.98 326.58V338.64M100.78 326.58H105.18M100.78 338.64H105.18" stroke="#000" stroke-width="1.1" fill="none"/>
<path d="M135.32 327.96V340.28M133.12 327.96H137.52M133.12 340.28H137.52" stroke="#000" stroke-width="1.1" fill="none"/>
<path d="M167.65 329.1V341.16M165.45 329.1H169.85M165.45 341.16H169.85" stroke="#000" stroke-width="1.1" fill="none"/>
<path d="M199.99 330.23V342.29M197.79 330.23H202.19M197.79 342.29H202.19" stroke="#000" stroke-width="1.1" fill="none"/>
<path d="M232.33 330.48V342.54M230.13 330.48H234.53M230.13 342.54H234.53" stroke="#000" stroke-width="1.1" fill="none"/>
<circle cx="44.77" cy="314.96" r="1.4" fill="#000"/>
<circle cx="70.64" cy="329.72" r="1.4" fill="#000"/>
<circle cx="102.98" cy="332.61" r="1.4" fill="#000"/>
<circle cx="135.32" cy="334.12" r="1.4" fill="#000"/>
<circle cx="167.65" cy="335.13" r="1.4" fill="#000"/>
<circle cx="199.99" cy="336.26" r="1.4" fill="#000"/>
<circle cx="232.33" cy="336.51" r="1.4" fill="#000"/>
<path d="M70.64 285.25V323.44M69.14 285.25H72.14M69.14 323.44H72.14" stroke="#ff0000" stroke-width="1" fill="none"/>
<path d="M167.65 310.12V333.24M166.15 310.12H169.15M166.15 333.24H169.15" stroke="#ff0000" stroke-width="1" fill="none"/>
<rect x="69.44" y="303.14" width="2.4" height="2.4" fill="#ff0000"/>
<rect x="166.45" y="320.48" width="2.4" height="2.4" fill="#ff0000"/>
<rect x="114.5" y="412.5" width="129.8" height="21.7" fill="#fff" stroke="#d0d0d0" stroke-width="1"/>
<line x1="115.8" y1="418.6" x2="122.2" y2="418.6" stroke="#000" stroke-width="0.9" stroke-dasharray="1 1"/>
<circle cx="119" cy="418.6" r="1.3" fill="#000"/>
<text x="123.2" y="421.9" class="lg" textLength="56.4" lengthAdjust="spacingAndGlyphs">model <tspan font-weight="normal" font-size="7.2px" baseline-shift="0.9">–</tspan> single</text>
<rect x="117.8" y="427.5" width="2.4" height="2.4" fill="#ff0000"/>
<text x="123.2" y="432.2" class="lg" textLength="120.2" lengthAdjust="spacingAndGlyphs">expt data (42d post IR) <tspan font-weight="normal" font-size="7.2px" baseline-shift="0.9">–</tspan> single</text>
<text x="143.4" y="466.7" text-anchor="middle" class="xl">Dose (Gy)</text>
<text transform="translate(17.3 354.4) rotate(-90)" text-anchor="middle" font-size="10.1" textLength="140.3" lengthAdjust="spacingAndGlyphs" class="yl">Change in total length (tL/tL0)</text>
<line x1="290.5" y1="265.4" x2="500.5" y2="265.4" stroke="#cfcfcf" stroke-width="1"/>
<line x1="500.5" y1="265.4" x2="500.5" y2="441.3" stroke="#d6d6d6" stroke-width="1"/>
<line x1="290.5" y1="441.3" x2="292.8" y2="441.3" stroke="#262626" stroke-width="1"/>
<line x1="500.5" y1="441.3" x2="498.2" y2="441.3" stroke="#c8c8c8" stroke-width="1"/>
<text x="287.9" y="444.5" text-anchor="end" class="tk">0</text>
<line x1="290.5" y1="416.17" x2="292.8" y2="416.17" stroke="#262626" stroke-width="1"/>
<line x1="500.5" y1="416.17" x2="498.2" y2="416.17" stroke="#c8c8c8" stroke-width="1"/>
<text x="287.9" y="419.37" text-anchor="end" class="tk">0.2</text>
<line x1="290.5" y1="391.04" x2="292.8" y2="391.04" stroke="#262626" stroke-width="1"/>
<line x1="500.5" y1="391.04" x2="498.2" y2="391.04" stroke="#c8c8c8" stroke-width="1"/>
<text x="287.9" y="394.24" text-anchor="end" class="tk">0.4</text>
<line x1="290.5" y1="365.91" x2="292.8" y2="365.91" stroke="#262626" stroke-width="1"/>
<line x1="500.5" y1="365.91" x2="498.2" y2="365.91" stroke="#c8c8c8" stroke-width="1"/>
<text x="287.9" y="369.11" text-anchor="end" class="tk">0.6</text>
<line x1="290.5" y1="340.79" x2="292.8" y2="340.79" stroke="#262626" stroke-width="1"/>
<line x1="500.5" y1="340.79" x2="498.2" y2="340.79" stroke="#c8c8c8" stroke-width="1"/>
<text x="287.9" y="343.99" text-anchor="end" class="tk">0.8</text>
<line x1="290.5" y1="315.66" x2="292.8" y2="315.66" stroke="#262626" stroke-width="1"/>
<line x1="500.5" y1="315.66" x2="498.2" y2="315.66" stroke="#c8c8c8" stroke-width="1"/>
<path d="M759 0L484 0L484 1032Q330 890 147 834L147 1082Q250 1117 370 1210Q490 1303 535 1409L759 1409Z" transform="matrix(0.004346 0 0 -0.004346 282.95 319.00)" fill="#1a1a1a"/>
<line x1="290.5" y1="290.53" x2="292.8" y2="290.53" stroke="#262626" stroke-width="1"/>
<line x1="500.5" y1="290.53" x2="498.2" y2="290.53" stroke="#c8c8c8" stroke-width="1"/>
<path d="M759 0L484 0L484 1032Q330 890 147 834L147 1082Q250 1117 370 1210Q490 1303 535 1409L759 1409Z" transform="matrix(0.004346 0 0 -0.004346 275.53 294.00)" fill="#1a1a1a"/>
<text x="287.9" y="293.73" text-anchor="end" class="tk">.2</text>
<line x1="290.5" y1="265.4" x2="292.8" y2="265.4" stroke="#262626" stroke-width="1"/>
<line x1="500.5" y1="265.4" x2="498.2" y2="265.4" stroke="#c8c8c8" stroke-width="1"/>
<path d="M759 0L484 0L484 1032Q330 890 147 834L147 1082Q250 1117 370 1210Q490 1303 535 1409L759 1409Z" transform="matrix(0.004346 0 0 -0.004346 275.53 269.00)" fill="#1a1a1a"/>
<text x="287.9" y="268.6" text-anchor="end" class="tk">.4</text>
<line x1="290.5" y1="441.3" x2="290.5" y2="439" stroke="#262626" stroke-width="1"/>
<line x1="290.5" y1="265.4" x2="290.5" y2="267.7" stroke="#c8c8c8" stroke-width="1"/>
<text x="290.5" y="453.2" text-anchor="middle" class="tk">0</text>
<line x1="355.12" y1="441.3" x2="355.12" y2="439" stroke="#262626" stroke-width="1"/>
<line x1="355.12" y1="265.4" x2="355.12" y2="267.7" stroke="#c8c8c8" stroke-width="1"/>
<path d="M759 0L484 0L484 1032Q330 890 147 834L147 1082Q250 1117 370 1210Q490 1303 535 1409L759 1409Z" transform="matrix(0.004346 0 0 -0.004346 352.64 453.00)" fill="#1a1a1a"/>
<line x1="419.73" y1="441.3" x2="419.73" y2="439" stroke="#262626" stroke-width="1"/>
<line x1="419.73" y1="265.4" x2="419.73" y2="267.7" stroke="#c8c8c8" stroke-width="1"/>
<text x="419.73" y="453.2" text-anchor="middle" class="tk">2</text>
<line x1="484.35" y1="441.3" x2="484.35" y2="439" stroke="#262626" stroke-width="1"/>
<line x1="484.35" y1="265.4" x2="484.35" y2="267.7" stroke="#c8c8c8" stroke-width="1"/>
<text x="484.35" y="453.2" text-anchor="middle" class="tk">3</text>
<path d="M290.5 265.4V441.3H500.5" fill="none" stroke="#262626" stroke-width="1.05"/>
<path d="M298 316.75h1v1h-1zM300 317.50h1v1h-1zM302 318.26h1v1h-1zM304 319.02h1v1h-1zM306 319.78h1v1h-1zM308 320.54h1v1h-1zM310 321.30h1v1h-1zM312 322.05h1v1h-1zM314 322.81h1v1h-1zM316 323.57h1v1h-1zM318 324.33h1v1h-1zM320 325.09h1v1h-1zM322 325.85h1v1h-1zM324 326.12h1v1h-1zM326 326.31h1v1h-1zM328 326.49h1v1h-1zM330 326.68h1v1h-1zM332 326.87h1v1h-1zM334 327.05h1v1h-1zM336 327.24h1v1h-1zM338 327.43h1v1h-1zM340 327.61h1v1h-1zM342 327.80h1v1h-1zM344 327.99h1v1h-1zM346 328.17h1v1h-1zM348 328.36h1v1h-1zM350 328.55h1v1h-1zM352 328.73h1v1h-1zM354 328.92h1v1h-1zM356 329.05h1v1h-1zM358 329.15h1v1h-1zM360 329.25h1v1h-1zM362 329.35h1v1h-1zM364 329.45h1v1h-1zM366 329.55h1v1h-1zM368 329.65h1v1h-1zM370 329.76h1v1h-1zM372 329.86h1v1h-1zM374 329.96h1v1h-1zM376 330.06h1v1h-1zM378 330.16h1v1h-1zM380 330.26h1v1h-1zM382 330.36h1v1h-1zM384 330.46h1v1h-1zM386 330.56h1v1h-1zM388 330.63h1v1h-1zM390 330.67h1v1h-1zM392 330.71h1v1h-1zM394 330.75h1v1h-1zM396 330.79h1v1h-1zM398 330.83h1v1h-1zM400 330.87h1v1h-1zM402 330.90h1v1h-1zM404 330.94h1v1h-1zM406 330.98h1v1h-1zM408 331.02h1v1h-1zM410 331.06h1v1h-1zM412 331.10h1v1h-1zM414 331.14h1v1h-1zM416 331.18h1v1h-1zM418 331.22h1v1h-1zM420 331.26h1v1h-1zM422 331.33h1v1h-1zM424 331.39h1v1h-1zM426 331.45h1v1h-1zM428 331.51h1v1h-1zM430 331.57h1v1h-1zM432 331.64h1v1h-1zM434 331.70h1v1h-1zM436 331.76h1v1h-1zM438 331.82h1v1h-1zM440 331.89h1v1h-1zM442 331.95h1v1h-1zM444 332.01h1v1h-1zM446 332.07h1v1h-1zM448 332.13h1v1h-1zM450 332.20h1v1h-1zM452 332.25h1v1h-1zM454 332.29h1v1h-1zM456 332.33h1v1h-1zM458 332.37h1v1h-1zM460 332.41h1v1h-1zM462 332.45h1v1h-1zM464 332.49h1v1h-1zM466 332.53h1v1h-1zM468 332.56h1v1h-1zM470 332.60h1v1h-1zM472 332.64h1v1h-1zM474 332.68h1v1h-1zM476 332.72h1v1h-1zM478 332.76h1v1h-1zM480 332.80h1v1h-1zM482 332.84h1v1h-1zM484 332.84h1v1h-1z" fill="#333"/>
<path d="M296.96 315.66V317.67M294.76 315.66H299.16M294.76 317.67H299.16" stroke="#000" stroke-width="1.1" fill="none"/>
<path d="M322.81 321.94V330.99M320.61 321.94H325.01M320.61 330.99H325.01" stroke="#000" stroke-width="1.1" fill="none"/>
<path d="M355.12 323.82V335.13M352.92 323.82H357.32M352.92 335.13H357.32" stroke="#000" stroke-width="1.1" fill="none"/>
<path d="M387.42 325.46V336.77M385.22 325.46H389.62M385.22 336.77H389.62" stroke="#000" stroke-width="1.1" fill="none"/>
<path d="M419.73 325.96V337.52M417.53 325.96H421.93M417.53 337.52H421.93" stroke="#000" stroke-width="1.1" fill="none"/>
<path d="M452.04 326.71V338.78M449.84 326.71H454.24M449.84 338.78H454.24" stroke="#000" stroke-width="1.1" fill="none"/>
<path d="M484.35 327.47V339.28M482.15 327.47H486.55M482.15 339.28H486.55" stroke="#000" stroke-width="1.1" fill="none"/>
<circle cx="296.96" cy="316.66" r="1.4" fill="#000"/>
<circle cx="322.81" cy="326.46" r="1.4" fill="#000"/>
<circle cx="355.12" cy="329.48" r="1.4" fill="#000"/>
<circle cx="387.42" cy="331.11" r="1.4" fill="#000"/>
<circle cx="419.73" cy="331.74" r="1.4" fill="#000"/>
<circle cx="452.04" cy="332.74" r="1.4" fill="#000"/>
<circle cx="484.35" cy="333.37" r="1.4" fill="#000"/>
<path d="M322.81 306.74V354.48M321.31 306.74H324.31M321.31 354.48H324.31" stroke="#ff0000" stroke-width="1" fill="none"/>
<path d="M419.73 319.3V364.53M418.23 319.3H421.23M418.23 364.53H421.23" stroke="#ff0000" stroke-width="1" fill="none"/>
<rect x="321.61" y="329.41" width="2.4" height="2.4" fill="#ff0000"/>
<rect x="418.53" y="340.72" width="2.4" height="2.4" fill="#ff0000"/>
<rect x="366.3" y="413.3" width="129.3" height="21.9" fill="#fff" stroke="#d0d0d0" stroke-width="1"/>
<line x1="367.4" y1="419.4" x2="373.8" y2="419.4" stroke="#000" stroke-width="0.9" stroke-dasharray="1 1"/>
<circle cx="370.6" cy="419.4" r="1.3" fill="#000"/>
<text x="374.8" y="422.7" class="lg" textLength="56.4" lengthAdjust="spacingAndGlyphs">model <tspan font-weight="normal" font-size="7.2px" baseline-shift="0.9">–</tspan> single</text>
<rect x="369.4" y="428.7" width="2.4" height="2.4" fill="#ff0000"/>
<text x="374.8" y="433.2" class="lg" textLength="120.2" lengthAdjust="spacingAndGlyphs">expt data (42d post IR) <tspan font-weight="normal" font-size="7.2px" baseline-shift="0.9">–</tspan> single</text>
<text x="395.5" y="465.7" text-anchor="middle" class="xl">Dose (Gy)</text>
<text transform="translate(266.9 353.5) rotate(-90)" text-anchor="middle" font-size="8.4" textLength="178.9" lengthAdjust="spacingAndGlyphs" class="yl">Change in number of branch points (BP/BP0)</text>
<line x1="547" y1="265.4" x2="757.4" y2="265.4" stroke="#cfcfcf" stroke-width="1"/>
<line x1="757.4" y1="265.4" x2="757.4" y2="441.4" stroke="#d6d6d6" stroke-width="1"/>
<line x1="547" y1="441.4" x2="549.3" y2="441.4" stroke="#262626" stroke-width="1"/>
<line x1="757.4" y1="441.4" x2="755.1" y2="441.4" stroke="#c8c8c8" stroke-width="1"/>
<text x="544.4" y="444.6" text-anchor="end" class="tk">0</text>
<line x1="547" y1="416.26" x2="549.3" y2="416.26" stroke="#262626" stroke-width="1"/>
<line x1="757.4" y1="416.26" x2="755.1" y2="416.26" stroke="#c8c8c8" stroke-width="1"/>
<text x="544.4" y="419.46" text-anchor="end" class="tk">0.2</text>
<line x1="547" y1="391.11" x2="549.3" y2="391.11" stroke="#262626" stroke-width="1"/>
<line x1="757.4" y1="391.11" x2="755.1" y2="391.11" stroke="#c8c8c8" stroke-width="1"/>
<text x="544.4" y="394.31" text-anchor="end" class="tk">0.4</text>
<line x1="547" y1="365.97" x2="549.3" y2="365.97" stroke="#262626" stroke-width="1"/>
<line x1="757.4" y1="365.97" x2="755.1" y2="365.97" stroke="#c8c8c8" stroke-width="1"/>
<text x="544.4" y="369.17" text-anchor="end" class="tk">0.6</text>
<line x1="547" y1="340.83" x2="549.3" y2="340.83" stroke="#262626" stroke-width="1"/>
<line x1="757.4" y1="340.83" x2="755.1" y2="340.83" stroke="#c8c8c8" stroke-width="1"/>
<text x="544.4" y="344.03" text-anchor="end" class="tk">0.8</text>
<line x1="547" y1="315.69" x2="549.3" y2="315.69" stroke="#262626" stroke-width="1"/>
<line x1="757.4" y1="315.69" x2="755.1" y2="315.69" stroke="#c8c8c8" stroke-width="1"/>
<path d="M759 0L484 0L484 1032Q330 890 147 834L147 1082Q250 1117 370 1210Q490 1303 535 1409L759 1409Z" transform="matrix(0.004346 0 0 -0.004346 539.45 319.00)" fill="#1a1a1a"/>
<line x1="547" y1="290.54" x2="549.3" y2="290.54" stroke="#262626" stroke-width="1"/>
<line x1="757.4" y1="290.54" x2="755.1" y2="290.54" stroke="#c8c8c8" stroke-width="1"/>
<path d="M759 0L484 0L484 1032Q330 890 147 834L147 1082Q250 1117 370 1210Q490 1303 535 1409L759 1409Z" transform="matrix(0.004346 0 0 -0.004346 532.03 294.00)" fill="#1a1a1a"/>
<text x="544.4" y="293.74" text-anchor="end" class="tk">.2</text>
<line x1="547" y1="265.4" x2="549.3" y2="265.4" stroke="#262626" stroke-width="1"/>
<line x1="757.4" y1="265.4" x2="755.1" y2="265.4" stroke="#c8c8c8" stroke-width="1"/>
<path d="M759 0L484 0L484 1032Q330 890 147 834L147 1082Q250 1117 370 1210Q490 1303 535 1409L759 1409Z" transform="matrix(0.004346 0 0 -0.004346 532.03 269.00)" fill="#1a1a1a"/>
<text x="544.4" y="268.6" text-anchor="end" class="tk">.4</text>
<line x1="547" y1="441.4" x2="547" y2="439.1" stroke="#262626" stroke-width="1"/>
<line x1="547" y1="265.4" x2="547" y2="267.7" stroke="#c8c8c8" stroke-width="1"/>
<text x="547" y="453.3" text-anchor="middle" class="tk">0</text>
<line x1="611.74" y1="441.4" x2="611.74" y2="439.1" stroke="#262626" stroke-width="1"/>
<line x1="611.74" y1="265.4" x2="611.74" y2="267.7" stroke="#c8c8c8" stroke-width="1"/>
<path d="M759 0L484 0L484 1032Q330 890 147 834L147 1082Q250 1117 370 1210Q490 1303 535 1409L759 1409Z" transform="matrix(0.004346 0 0 -0.004346 609.26 453.00)" fill="#1a1a1a"/>
<line x1="676.48" y1="441.4" x2="676.48" y2="439.1" stroke="#262626" stroke-width="1"/>
<line x1="676.48" y1="265.4" x2="676.48" y2="267.7" stroke="#c8c8c8" stroke-width="1"/>
<text x="676.48" y="453.3" text-anchor="middle" class="tk">2</text>
<line x1="741.22" y1="441.4" x2="741.22" y2="439.1" stroke="#262626" stroke-width="1"/>
<line x1="741.22" y1="265.4" x2="741.22" y2="267.7" stroke="#c8c8c8" stroke-width="1"/>
<text x="741.22" y="453.3" text-anchor="middle" class="tk">3</text>
<path d="M547 265.4V441.4H757.4" fill="none" stroke="#262626" stroke-width="1.05"/>
<path d="M554 317.07h1v1h-1zM556 317.80h1v1h-1zM558 318.52h1v1h-1zM560 319.25h1v1h-1zM562 319.98h1v1h-1zM564 320.71h1v1h-1zM566 321.44h1v1h-1zM568 322.17h1v1h-1zM570 322.89h1v1h-1zM572 323.62h1v1h-1zM574 324.35h1v1h-1zM576 325.08h1v1h-1zM578 325.81h1v1h-1zM580 326.23h1v1h-1zM582 326.43h1v1h-1zM584 326.62h1v1h-1zM586 326.82h1v1h-1zM588 327.01h1v1h-1zM590 327.20h1v1h-1zM592 327.40h1v1h-1zM594 327.59h1v1h-1zM596 327.79h1v1h-1zM598 327.98h1v1h-1zM600 328.17h1v1h-1zM602 328.37h1v1h-1zM604 328.56h1v1h-1zM606 328.76h1v1h-1zM608 328.95h1v1h-1zM610 329.15h1v1h-1zM612 329.29h1v1h-1zM614 329.36h1v1h-1zM616 329.43h1v1h-1zM618 329.50h1v1h-1zM620 329.57h1v1h-1zM622 329.64h1v1h-1zM624 329.71h1v1h-1zM626 329.78h1v1h-1zM628 329.85h1v1h-1zM630 329.92h1v1h-1zM632 329.99h1v1h-1zM634 330.06h1v1h-1zM636 330.13h1v1h-1zM638 330.20h1v1h-1zM640 330.27h1v1h-1zM642 330.34h1v1h-1zM644 330.41h1v1h-1zM646 330.47h1v1h-1zM648 330.53h1v1h-1zM650 330.60h1v1h-1zM652 330.66h1v1h-1zM654 330.72h1v1h-1zM656 330.78h1v1h-1zM658 330.84h1v1h-1zM660 330.91h1v1h-1zM662 330.97h1v1h-1zM664 331.03h1v1h-1zM666 331.09h1v1h-1zM668 331.16h1v1h-1zM670 331.22h1v1h-1zM672 331.28h1v1h-1zM674 331.34h1v1h-1zM676 331.40h1v1h-1zM678 331.48h1v1h-1zM680 331.56h1v1h-1zM682 331.64h1v1h-1zM684 331.71h1v1h-1zM686 331.79h1v1h-1zM688 331.87h1v1h-1zM690 331.95h1v1h-1zM692 332.03h1v1h-1zM694 332.10h1v1h-1zM696 332.18h1v1h-1zM698 332.26h1v1h-1zM700 332.34h1v1h-1zM702 332.41h1v1h-1zM704 332.49h1v1h-1zM706 332.57h1v1h-1zM708 332.65h1v1h-1zM710 332.67h1v1h-1zM712 332.69h1v1h-1zM714 332.70h1v1h-1zM716 332.72h1v1h-1zM718 332.73h1v1h-1zM720 332.75h1v1h-1zM722 332.77h1v1h-1zM724 332.78h1v1h-1zM726 332.80h1v1h-1zM728 332.81h1v1h-1zM730 332.83h1v1h-1zM732 332.84h1v1h-1zM734 332.86h1v1h-1zM736 332.87h1v1h-1zM738 332.89h1v1h-1zM740 332.91h1v1h-1z" fill="#333"/>
<path d="M553.47 316.19V318.2M551.27 316.19H555.67M551.27 318.2H555.67" stroke="#000" stroke-width="1.1" fill="none"/>
<path d="M579.37 321.72V331.53M577.17 321.72H581.57M577.17 331.53H581.57" stroke="#000" stroke-width="1.1" fill="none"/>
<path d="M611.74 324.23V335.3M609.54 324.23H613.94M609.54 335.3H613.94" stroke="#000" stroke-width="1.1" fill="none"/>
<path d="M644.11 325.24V336.55M641.91 325.24H646.31M641.91 336.55H646.31" stroke="#000" stroke-width="1.1" fill="none"/>
<path d="M676.48 325.99V337.81M674.28 325.99H678.68M674.28 337.81H678.68" stroke="#000" stroke-width="1.1" fill="none"/>
<path d="M708.85 327.25V339.07M706.65 327.25H711.05M706.65 339.07H711.05" stroke="#000" stroke-width="1.1" fill="none"/>
<path d="M741.22 327.38V339.45M739.02 327.38H743.42M739.02 339.45H743.42" stroke="#000" stroke-width="1.1" fill="none"/>
<circle cx="553.47" cy="317.19" r="1.4" fill="#000"/>
<circle cx="579.37" cy="326.62" r="1.4" fill="#000"/>
<circle cx="611.74" cy="329.77" r="1.4" fill="#000"/>
<circle cx="644.11" cy="330.9" r="1.4" fill="#000"/>
<circle cx="676.48" cy="331.9" r="1.4" fill="#000"/>
<circle cx="708.85" cy="333.16" r="1.4" fill="#000"/>
<circle cx="741.22" cy="333.41" r="1.4" fill="#000"/>
<rect x="684.2" y="422.3" width="66.3" height="11.1" fill="#fff" stroke="#d0d0d0" stroke-width="1"/>
<line x1="685.5" y1="428.2" x2="691.9" y2="428.2" stroke="#000" stroke-width="0.9" stroke-dasharray="1 1"/>
<circle cx="688.7" cy="428.2" r="1.3" fill="#000"/>
<text x="693.2" y="431.4" class="lg" textLength="56.4" lengthAdjust="spacingAndGlyphs">model <tspan font-weight="normal" font-size="7.2px" baseline-shift="0.9">–</tspan> single</text>
<text x="652.2" y="465.8" text-anchor="middle" class="xl">Dose (Gy)</text>
<text transform="translate(524.6 353.3) rotate(-90)" text-anchor="middle" font-size="8.4" textLength="194.2" lengthAdjust="spacingAndGlyphs" class="yl">Change in number of branch segments (BN/BN0)</text>
</svg>
</body></html>
